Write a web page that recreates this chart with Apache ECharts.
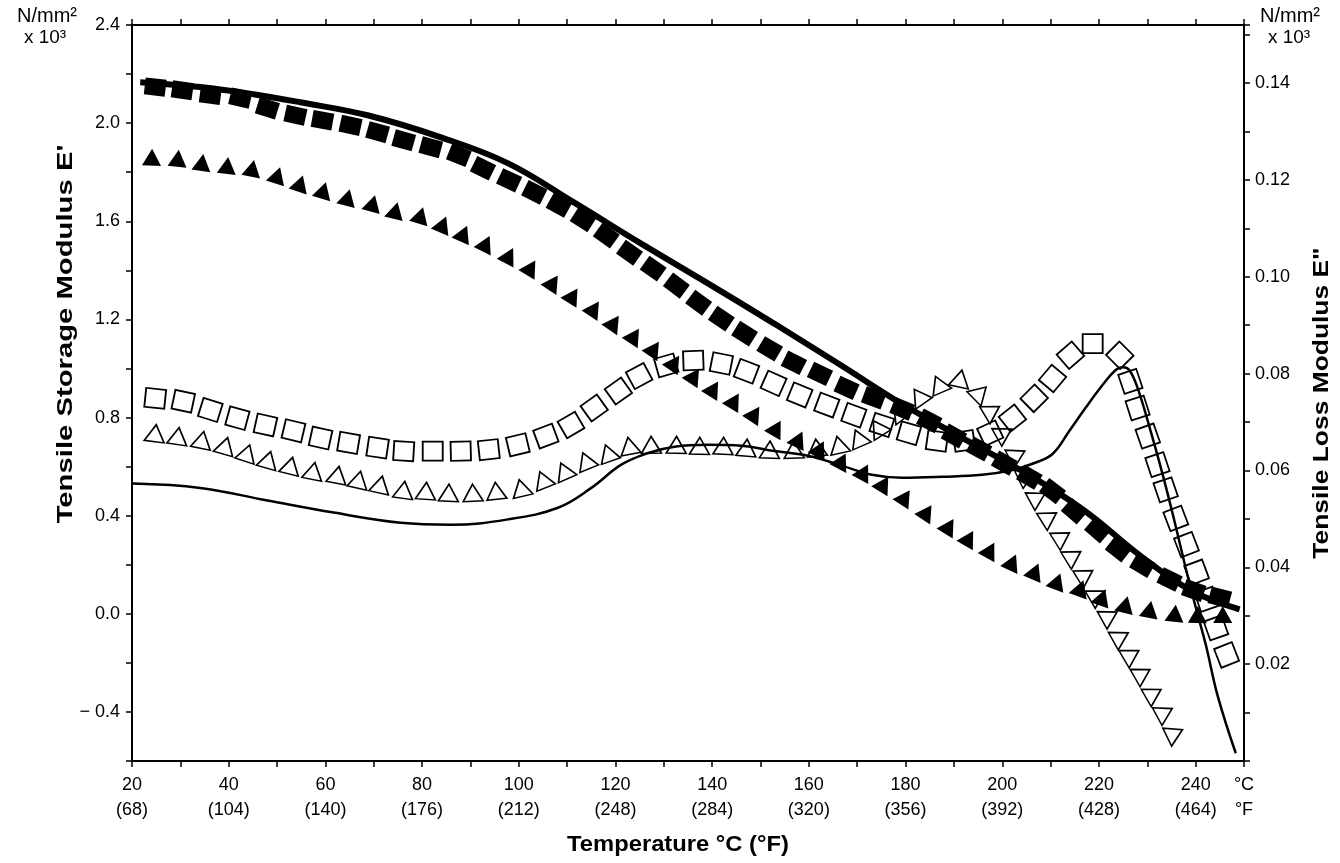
<!DOCTYPE html>
<html><head><meta charset="utf-8">
<script src="https://cdn.jsdelivr.net/npm/echarts@6/dist/echarts.min.js"></script>
<style>html,body{margin:0;padding:0;background:#fff}#c{width:1340px;height:863px}</style>
</head><body><div id="c"></div>
<script>
// ---- Data (temperature °C, modulus) ----
// Storage modulus E' (left axis, N/mm² x 10³)
const thickLineT = [21.7,34.1,45.1,54.8,68.7,83.9,97.8,111.4,125.3,139.2,152.9,166.8,179.3,191.7,204.1,216.6,229.0,239.4,249.1];
const thickLineE = [2.167,2.147,2.118,2.085,2.032,1.942,1.836,1.677,1.509,1.346,1.182,1.011,0.855,0.717,0.582,0.426,0.230,0.091,0.018];

const filledSqT = [24.8,30.4,36.2,42.4,48.0,53.8,59.4,65.2,70.8,76.2,81.8,87.6,92.6,98.0,103.2,108.3,113.3,118.1,122.9,127.8,132.6,137.2,141.9,146.7,151.9,156.9,162.3,167.8,173.4,179.3,184.9,190.0,195.2,200.4,205.6,210.4,214.9,219.7,224.0,229.0,234.6,239.6,245.0];
const filledSqE = [2.147,2.134,2.114,2.102,2.061,2.032,2.012,1.991,1.963,1.930,1.902,1.869,1.816,1.767,1.718,1.665,1.607,1.542,1.472,1.407,1.338,1.268,1.203,1.142,1.080,1.023,0.978,0.921,0.880,0.835,0.786,0.725,0.672,0.614,0.557,0.500,0.418,0.341,0.263,0.198,0.140,0.095,0.067];

const filledTriT = [24.1,29.5,34.5,39.7,44.9,50.1,54.8,59.6,64.6,69.8,74.5,79.7,84.3,88.6,93.2,98.0,102.5,107.1,111.2,115.6,119.7,123.9,128.0,132.2,136.3,140.3,144.6,148.8,153.3,157.9,162.3,166.8,171.4,175.5,179.9,184.4,189.0,193.1,197.5,202.1,206.8,211.4,216.2,220.7,225.5,230.5,235.7,240.4,245.6];
const filledTriE = [1.861,1.857,1.840,1.828,1.816,1.787,1.754,1.726,1.697,1.673,1.644,1.624,1.587,1.550,1.509,1.460,1.411,1.350,1.297,1.244,1.186,1.133,1.080,1.023,0.970,0.917,0.868,0.815,0.757,0.712,0.672,0.623,0.578,0.529,0.475,0.414,0.357,0.308,0.259,0.210,0.173,0.132,0.104,0.067,0.038,0.018,0.002,-0.003,-0.003];

// Loss modulus E" (right axis, N/mm² x 10³)
const thinLineT = [20.2,34.1,48.0,61.7,75.6,85.9,97.8,108.1,115.0,121.2,126.8,132.2,139.2,146.1,152.9,160.0,166.8,173.0,179.3,187.5,195.8,202.1,206.8,210.4,213.9,217.2,220.7,223.4,224.9,226.3,228.0,230.5,233.2,235.7,237.9,240.0,242.1,244.6,248.3];
const thinLineE = [0.0573,0.0564,0.0538,0.0513,0.0492,0.0488,0.0499,0.0523,0.0564,0.0612,0.0636,0.0649,0.0653,0.0651,0.0640,0.0630,0.0610,0.0591,0.0585,0.0587,0.0591,0.0601,0.0616,0.0634,0.0682,0.0729,0.0776,0.0807,0.0813,0.0807,0.0770,0.0688,0.0591,0.0492,0.0400,0.0318,0.0240,0.0133,0.0016];

const openSqT = [24.8,30.6,36.2,41.8,47.6,53.4,59.0,64.8,70.8,76.2,82.2,88.0,93.8,99.8,105.6,110.8,115.6,120.6,124.9,130.5,136.1,141.9,147.1,152.7,158.1,163.7,169.3,175.1,180.7,186.5,192.1,197.5,202.1,206.6,210.4,214.1,218.7,224.3,226.5,228.0,230.1,232.1,233.8,235.9,238.1,240.2,242.3,244.2,246.4];
const openSqE = [0.0749,0.0743,0.0725,0.0708,0.0694,0.0682,0.0667,0.0657,0.0647,0.0640,0.0640,0.0640,0.0643,0.0653,0.0671,0.0694,0.0729,0.0764,0.0795,0.0817,0.0827,0.0821,0.0805,0.0780,0.0756,0.0735,0.0714,0.0694,0.0677,0.0661,0.0661,0.0677,0.0708,0.0749,0.0790,0.0838,0.0862,0.0838,0.0784,0.0729,0.0671,0.0612,0.0560,0.0501,0.0447,0.0390,0.0334,0.0275,0.0219];

const openTriT = [24.8,29.5,34.5,39.3,43.8,48.2,52.8,57.5,62.5,66.9,71.4,76.2,80.8,85.5,90.5,95.3,100.5,105.0,109.4,113.9,118.5,122.9,127.4,132.6,137.4,142.3,147.1,151.9,156.9,161.6,166.2,170.3,174.3,178.6,182.8,186.9,191.3,195.4,197.9,200.4,203.1,205.0,207.3,209.7,212.4,214.7,217.2,219.7,222.2,224.5,226.7,229.0,231.3,233.6,235.7];
const openTriE = [0.0677,0.0671,0.0663,0.0651,0.0636,0.0622,0.0610,0.0599,0.0591,0.0581,0.0571,0.0560,0.0558,0.0554,0.0554,0.0558,0.0564,0.0581,0.0599,0.0620,0.0636,0.0651,0.0653,0.0653,0.0651,0.0651,0.0647,0.0643,0.0643,0.0647,0.0653,0.0667,0.0688,0.0721,0.0753,0.0778,0.0790,0.0760,0.0723,0.0677,0.0632,0.0589,0.0544,0.0503,0.0462,0.0423,0.0384,0.0342,0.0299,0.0256,0.0219,0.0180,0.0139,0.0100,0.0057];

// Tick labels
const xTickC = [20,40,60,80,100,120,140,160,180,200,220,240];
const xTickF = ['(68)','(104)','(140)','(176)','(212)','(248)','(284)','(320)','(356)','(392)','(428)','(464)'];
const xUnitLabel = '°C\n°F';

// ---- Chart ----
const FONT = '"Liberation Sans", Arial, Helvetica, sans-serif';
const chart = echarts.init(document.getElementById('c'), null, {renderer:'canvas'});
function zip(t, v){ return t.map((x,i)=>[x, v[i]]); }

function xFmt(v){
  const r = Math.round(v);
  const i = xTickC.indexOf(r);
  if (i >= 0) return r + '\n' + xTickF[i];
  if (r === 250) return xUnitLabel;
  return '';
}
function leftFmt(v){
  const k = Math.round(v*10);
  if (k % 4 !== 0) return '';
  const s = Math.abs(k/10).toFixed(1);
  return k < 0 ? '\u2212 ' + s : s;
}
function rightFmt(v){
  const k = Math.round(v*100);
  if (Math.abs(v*100 - k) > 1e-6 || k === 0 || k % 2 !== 0) return '';
  return (k/100).toFixed(2);
}

const axLine = {show:true, onZero:false, lineStyle:{color:'#000', width:2}};
const axTick = {show:true, length:6, inside:false, lineStyle:{color:'#000', width:1.5}};
const lblBase = {color:'#000', fontSize:18, fontFamily:FONT};

const data = {
  thick: zip(thickLineT, thickLineE),
  fsq: zip(filledSqT, filledSqE),
  ftri: zip(filledTriT, filledTriE),
  thin: zip(thinLineT, thinLineE),
  osq: zip(openSqT, openSqE),
  otri: zip(openTriT, openTriE)
};

const option = {
  animation: false,
  backgroundColor: '#fff',
  grid: {left:132, right:96, top:25, bottom:102, containLabel:false},
  xAxis: [
    {type:'value', min:20, max:250, interval:10, position:'bottom',
     axisLine:axLine, axisTick:axTick, splitLine:{show:false},
     axisLabel:Object.assign({}, lblBase, {formatter:xFmt, margin:12, lineHeight:25, showMinLabel:true, showMaxLabel:true, hideOverlap:false})},
    {type:'value', min:20, max:250, interval:10, position:'top',
     axisLine:axLine, axisTick:axTick, splitLine:{show:false}, axisLabel:{show:false}}
  ],
  yAxis: [
    {type:'value', min:-0.6, max:2.4, interval:0.2, position:'left',
     axisLine:axLine, axisTick:axTick, splitLine:{show:false},
     axisLabel:Object.assign({}, lblBase, {formatter:leftFmt, margin:12, showMinLabel:true, showMaxLabel:true})},
    {type:'value', min:0, max:0.152, interval:0.01, position:'right',
     axisLine:axLine, axisTick:axTick, splitLine:{show:false},
     axisLabel:Object.assign({}, lblBase, {formatter:rightFmt, margin:11})}
  ],
  series: [
    {name:'thick', type:'line', xAxisIndex:0, yAxisIndex:0, data:data.thick, smooth:0.4,
     symbol:'none', lineStyle:{color:'#000', width:6}, z:2},
    {name:'thin', type:'line', xAxisIndex:0, yAxisIndex:1, data:data.thin, smooth:0.4,
     symbol:'none', lineStyle:{color:'#000', width:2.5}, z:2},
    {name:'fsq', type:'scatter', xAxisIndex:0, yAxisIndex:0, data:data.fsq, symbol:'rect',
     symbolSize:[21,17], itemStyle:{color:'#000', opacity:1}, z:3},
    {name:'ftri', type:'scatter', xAxisIndex:0, yAxisIndex:0, data:data.ftri, symbol:'triangle',
     symbolSize:[19,17], itemStyle:{color:'#000', opacity:1}, z:3},
    {name:'osq', type:'scatter', xAxisIndex:0, yAxisIndex:1, data:data.osq, symbol:'rect',
     symbolSize:[20,19], itemStyle:{color:'rgba(255,255,255,0)', borderColor:'#000', borderWidth:1.8, opacity:1}, z:4},
    {name:'otri', type:'scatter', xAxisIndex:0, yAxisIndex:1, data:data.otri, symbol:'triangle',
     symbolSize:[20,17], itemStyle:{color:'rgba(255,255,255,0)', borderColor:'#000', borderWidth:1.6, opacity:1}, z:4}
  ],
  graphic: [
    {type:'text', x:47, y:16, style:{text:'N/mm²', font:'20px ' + FONT, fill:'#000', textAlign:'center', textVerticalAlign:'middle'}},
    {type:'text', x:45, y:38, style:{text:'x 10³', font:'19px ' + FONT, fill:'#000', textAlign:'center', textVerticalAlign:'middle'}},
    {type:'text', x:1290, y:16, style:{text:'N/mm²', font:'20px ' + FONT, fill:'#000', textAlign:'center', textVerticalAlign:'middle'}},
    {type:'text', x:1289, y:38, style:{text:'x 10³', font:'19px ' + FONT, fill:'#000', textAlign:'center', textVerticalAlign:'middle'}},
    {type:'text', x:66, y:334, rotation:Math.PI/2, scaleX:1.33, style:{text:"Tensile Storage Modulus E'", font:'bold 22px ' + FONT, fill:'#000', textAlign:'center', textVerticalAlign:'middle'}},
    {type:'text', x:1322, y:403, rotation:Math.PI/2, scaleX:1.2, style:{text:'Tensile Loss Modulus E"', font:'bold 22px ' + FONT, fill:'#000', textAlign:'center', textVerticalAlign:'middle'}},
    {type:'text', x:678, y:845, scaleX:1.08, style:{text:'Temperature °C (°F)', font:'bold 22px ' + FONT, fill:'#000', textAlign:'center', textVerticalAlign:'middle'}}
  ]
};
chart.setOption(option);

// Orient every marker along the local direction of its curve (as in the original plot)
function tangentAngles(pts, yIdx){
  const px = pts.map(d => chart.convertToPixel({xAxisIndex:0, yAxisIndex:yIdx}, d));
  return px.map((p, i) => {
    const a = px[Math.max(0, i-1)], b = px[Math.min(px.length-1, i+1)];
    return Math.atan2(-(b[1]-a[1]), b[0]-a[0]) * 180 / Math.PI;
  });
}
function rotated(pts, yIdx){
  const ang = tangentAngles(pts, yIdx);
  return pts.map((d, i) => ({value:d, symbolRotate:ang[i]}));
}
chart.setOption({series:[
  {name:'thick'}, {name:'thin'},
  {name:'fsq', data:rotated(data.fsq, 0)},
  {name:'ftri', data:rotated(data.ftri, 0)},
  {name:'osq', data:rotated(data.osq, 1)},
  {name:'otri', data:rotated(data.otri, 1)}
]});
</script>
</body></html>
